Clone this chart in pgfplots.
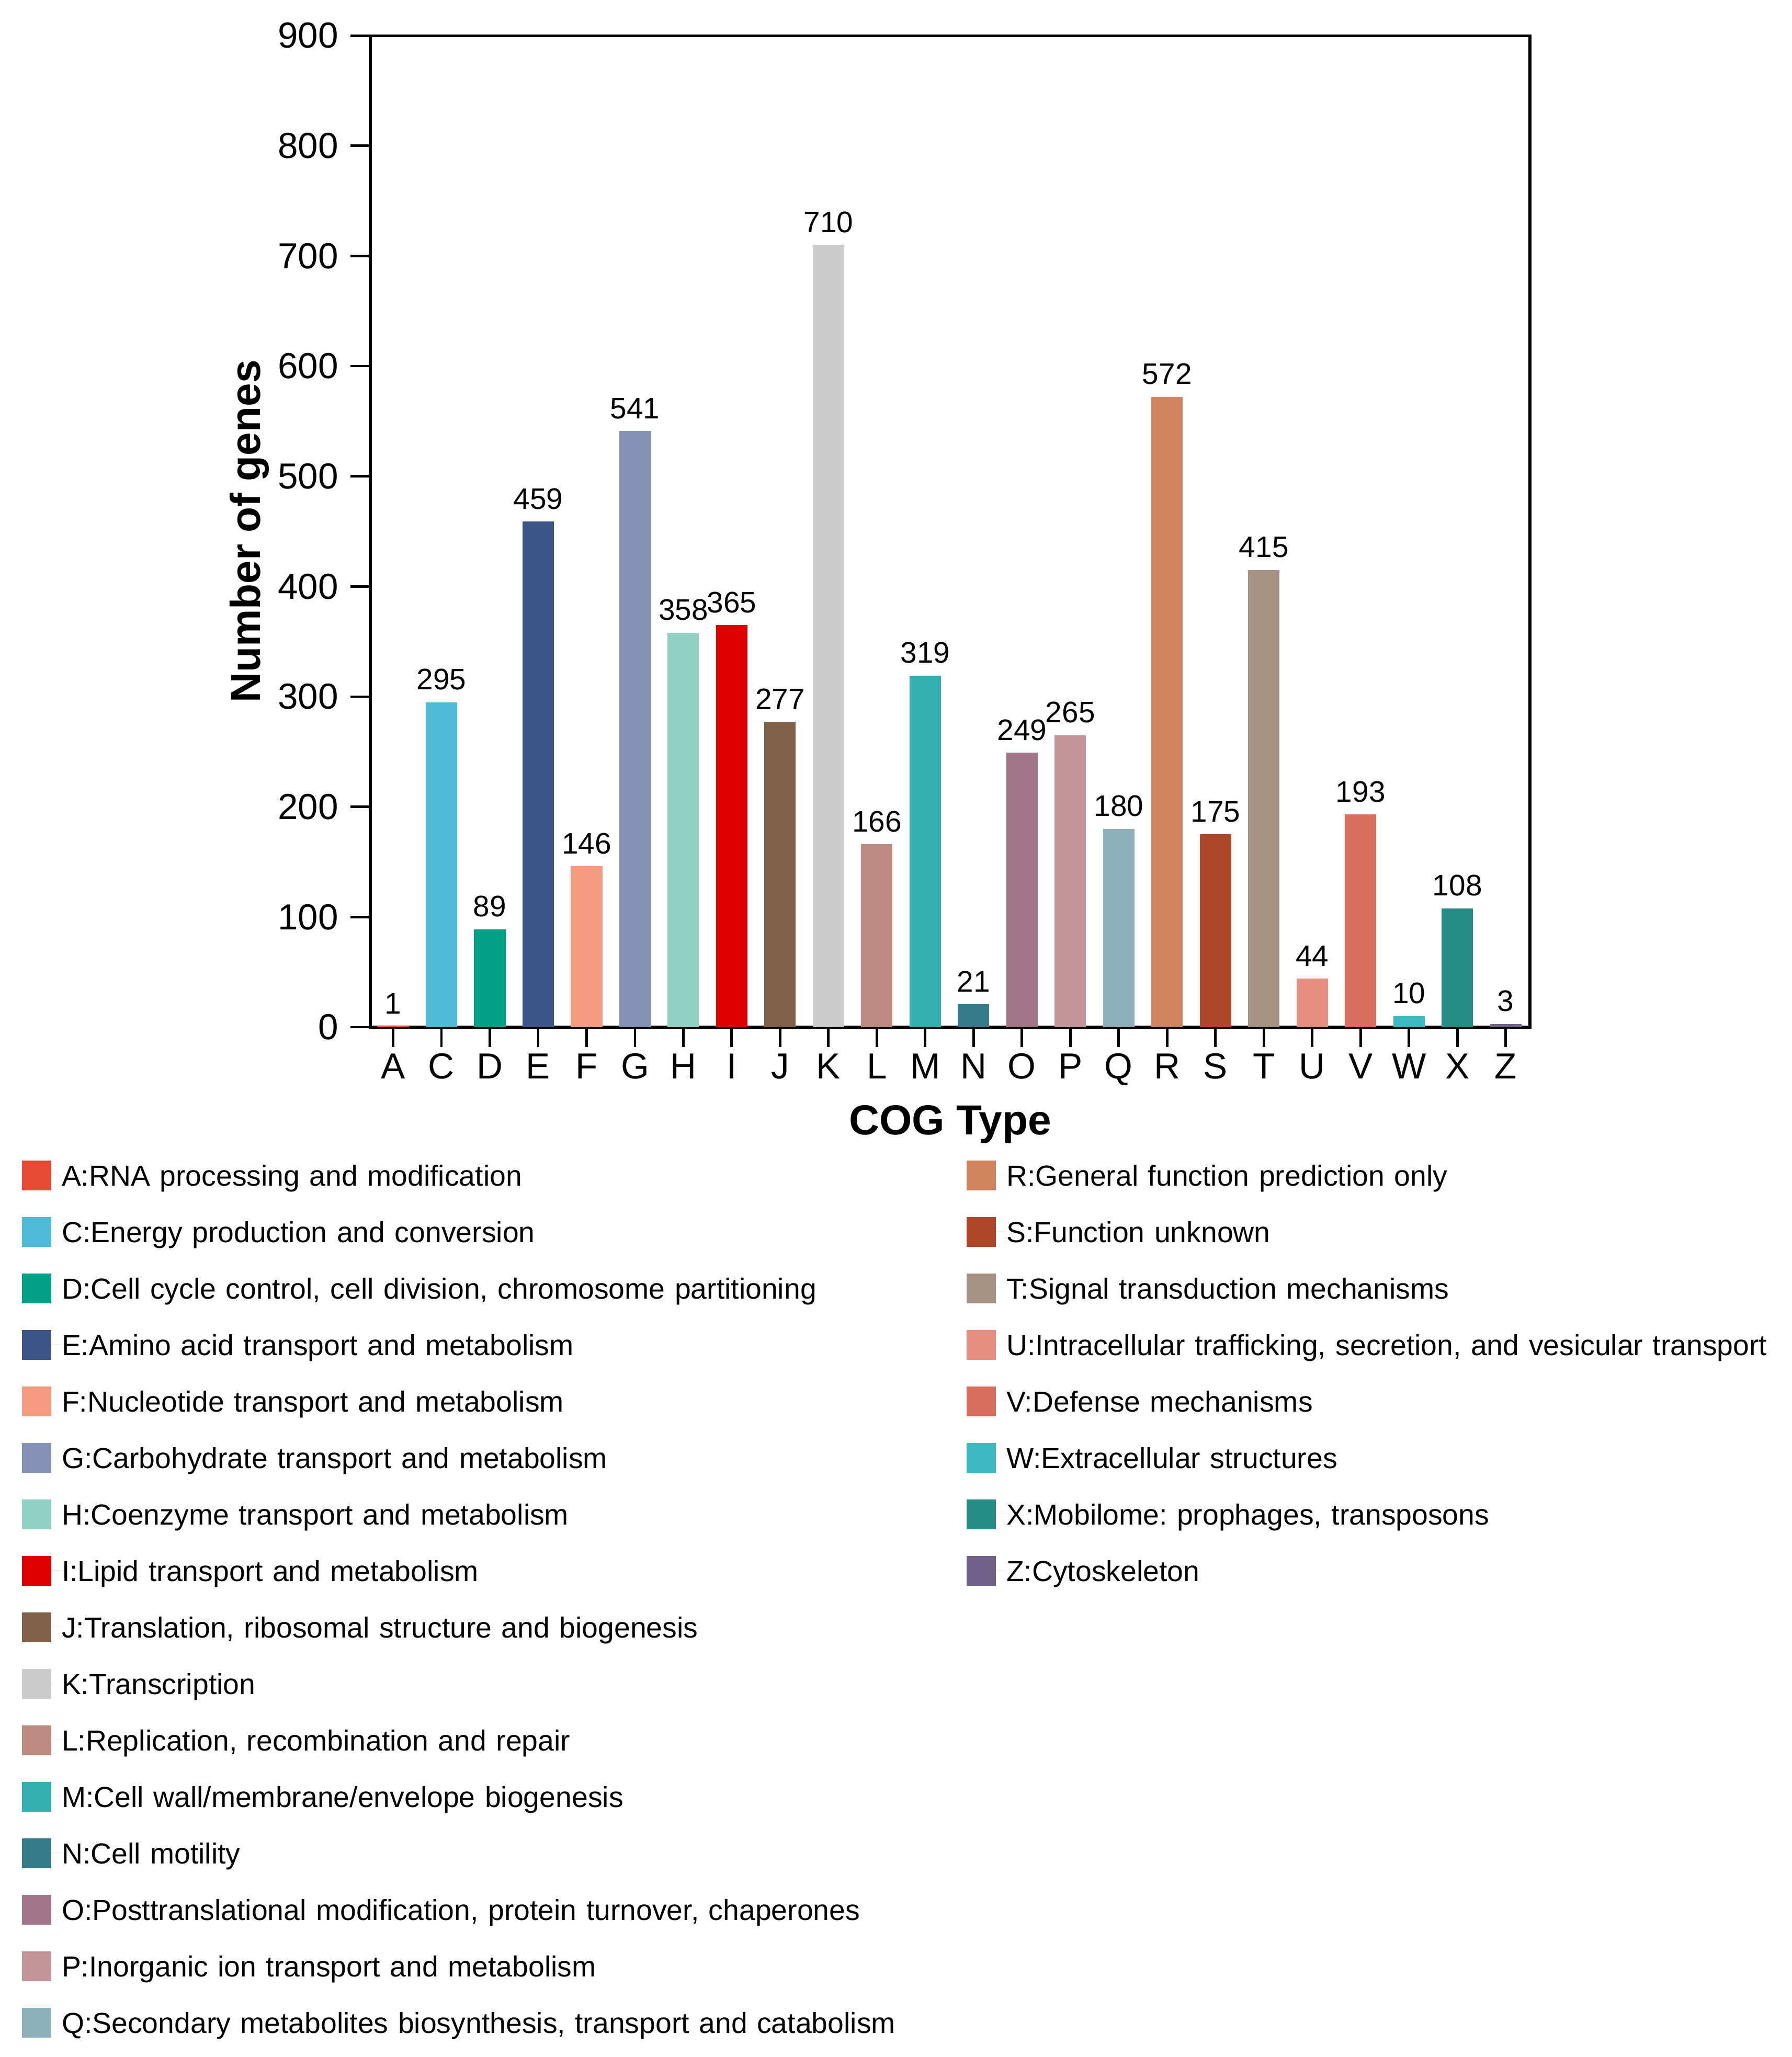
\documentclass[border=0pt]{standalone}
\usepackage{fontspec}
\setmainfont{Liberation Sans}
\usepackage{pgfplots}
\pgfplotsset{compat=1.18}
\definecolor{cA}{HTML}{E64B35}
\definecolor{cC}{HTML}{4DBBD5}
\definecolor{cD}{HTML}{00A087}
\definecolor{cE}{HTML}{3C5488}
\definecolor{cF}{HTML}{F39B7F}
\definecolor{cG}{HTML}{8491B4}
\definecolor{cH}{HTML}{91D1C2}
\definecolor{cI}{HTML}{DC0000}
\definecolor{cJ}{HTML}{7E6148}
\definecolor{cK}{HTML}{CCCCCC}
\definecolor{cL}{HTML}{BF8A80}
\definecolor{cM}{HTML}{34AEAE}
\definecolor{cN}{HTML}{357A88}
\definecolor{cO}{HTML}{A07585}
\definecolor{cP}{HTML}{C3949A}
\definecolor{cQ}{HTML}{8DAFBC}
\definecolor{cR}{HTML}{D08560}
\definecolor{cS}{HTML}{B0472B}
\definecolor{cT}{HTML}{A69283}
\definecolor{cU}{HTML}{E68F7E}
\definecolor{cV}{HTML}{D96F5C}
\definecolor{cW}{HTML}{3FB8C5}
\definecolor{cX}{HTML}{268B85}
\definecolor{cZ}{HTML}{6D6187}
\pgfplotsset{
  swatch/.style={legend image code/.code={%
    \path (0pt,0pt) -- (10.98pt,0pt);
    \fill[##1,draw=none] (0pt,-4.26pt) rectangle (8.09pt,3.98pt);}},
  bb/.style={ybar, bar width=0.65, bar shift=0pt, draw=none, fill=#1, swatch},
}
\frenchspacing
\begin{document}
\begin{tikzpicture}
\path[use as bounding box] (0,0) rectangle (495.06pt,568.32pt);
\begin{axis}[
  at={(102.31pt,284.52pt)}, anchor=south west,
  scale only axis, width=320.35pt, height=273.97pt,
  xmin=-0.47, xmax=23.5, ymin=0, ymax=900,
  ytick={0,100,...,900},
  xtick={0,...,23},
  xticklabels={A,C,D,E,F,G,H,I,J,K,L,M,N,O,P,Q,R,S,T,U,V,W,X,Z},
  tick pos=left, tick align=outside,
  major tick length=5.49pt,
  axis line style={line width=0.75pt},
  every tick/.style={black, line width=0.7pt},
  /pgf/number format/assume math mode=true,
  tick label style={font=\fontsize{10}{12}\selectfont},
  yticklabel style={anchor=east, inner sep=0pt, xshift=-3.18pt},
  xticklabel style={anchor=base, inner sep=0pt, yshift=-8.67pt},
  clip=false,
  nodes near coords,
  every node near coord/.append style={anchor=south, inner sep=0pt, yshift=3.2pt, font=\fontsize{8.2}{10}\selectfont, black},
  xlabel={COG Type},
  ylabel={Number of genes},
  every axis x label/.style={at={(axis description cs:0.5,-0.1086)}, anchor=base, font=\fontsize{11.6}{14}\selectfont\bfseries},
  every axis y label/.style={at={(axis description cs:-0.0948,0.5)}, rotate=90, anchor=base, font=\fontsize{11.6}{14}\selectfont\bfseries},
  legend columns=2,
  legend cell align=left,
  legend style={at={(axis description cs:-0.3004,-0.1340)}, anchor=north west, draw=none, fill=none, inner sep=0pt, outer sep=0pt, row sep=7.23pt, column sep=0pt,
    nodes={inner sep=0pt, text height=7.08pt, text depth=1.16pt, text width=250pt, align=left, font=\fontsize{8.0}{9}\selectfont}},
]
\addplot[bb=cA] coordinates {(0,1)};   \addlegendentry{A:RNA processing and modification}
\addplot[bb=cR] coordinates {(16,572)}; \addlegendentry{R:General function prediction only}
\addplot[bb=cC] coordinates {(1,295)}; \addlegendentry{C:Energy production and conversion}
\addplot[bb=cS] coordinates {(17,175)}; \addlegendentry{S:Function unknown}
\addplot[bb=cD] coordinates {(2,89)};  \addlegendentry{D:Cell cycle control, cell division, chromosome partitioning}
\addplot[bb=cT] coordinates {(18,415)}; \addlegendentry{T:Signal transduction mechanisms}
\addplot[bb=cE] coordinates {(3,459)}; \addlegendentry{E:Amino acid transport and metabolism}
\addplot[bb=cU] coordinates {(19,44)};  \addlegendentry{U:Intracellular trafficking, secretion, and vesicular transport}
\addplot[bb=cF] coordinates {(4,146)}; \addlegendentry{F:Nucleotide transport and metabolism}
\addplot[bb=cV] coordinates {(20,193)}; \addlegendentry{V:Defense mechanisms}
\addplot[bb=cG] coordinates {(5,541)}; \addlegendentry{G:Carbohydrate transport and metabolism}
\addplot[bb=cW] coordinates {(21,10)};  \addlegendentry{W:Extracellular structures}
\addplot[bb=cH] coordinates {(6,358)}; \addlegendentry{H:Coenzyme transport and metabolism}
\addplot[bb=cX] coordinates {(22,108)}; \addlegendentry{X:Mobilome: prophages, transposons}
\addplot[bb=cI] coordinates {(7,365)}; \addlegendentry{I:Lipid transport and metabolism}
\addplot[bb=cZ] coordinates {(23,3)};   \addlegendentry{Z:Cytoskeleton}
\addplot[bb=cJ] coordinates {(8,277)}; \addlegendentry{J:Translation, ribosomal structure and biogenesis}
\addlegendimage{empty legend}\addlegendentry{}
\addplot[bb=cK] coordinates {(9,710)}; \addlegendentry{K:Transcription}
\addlegendimage{empty legend}\addlegendentry{}
\addplot[bb=cL] coordinates {(10,166)}; \addlegendentry{L:Replication, recombination and repair}
\addlegendimage{empty legend}\addlegendentry{}
\addplot[bb=cM] coordinates {(11,319)}; \addlegendentry{M:Cell wall/membrane/envelope biogenesis}
\addlegendimage{empty legend}\addlegendentry{}
\addplot[bb=cN] coordinates {(12,21)}; \addlegendentry{N:Cell motility}
\addlegendimage{empty legend}\addlegendentry{}
\addplot[bb=cO] coordinates {(13,249)}; \addlegendentry{O:Posttranslational modification, protein turnover, chaperones}
\addlegendimage{empty legend}\addlegendentry{}
\addplot[bb=cP] coordinates {(14,265)}; \addlegendentry{P:Inorganic ion transport and metabolism}
\addlegendimage{empty legend}\addlegendentry{}
\addplot[bb=cQ] coordinates {(15,180)}; \addlegendentry{Q:Secondary metabolites biosynthesis, transport and catabolism}
\end{axis}
\end{tikzpicture}
\end{document}
